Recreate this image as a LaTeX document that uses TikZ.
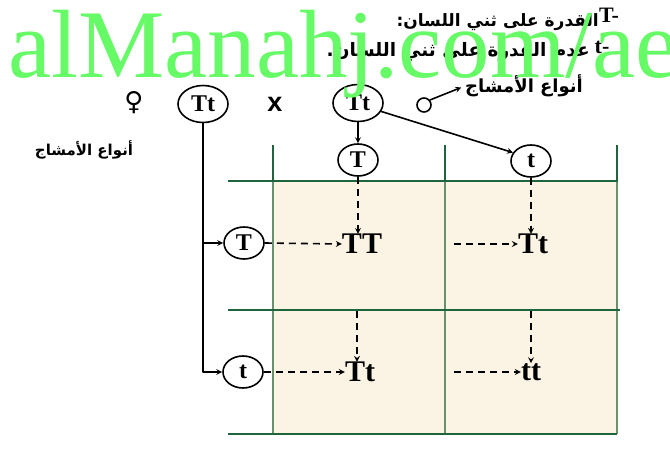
\documentclass[tikz,border=0pt]{standalone}
\usepackage{fontspec}
\setmainfont{Liberation Serif}
\setsansfont{Liberation Sans}
\newfontfamily\arabicfont[Script=Arabic]{DejaVu Sans}
\newfontfamily\symfont{DejaVu Sans}
\usetikzlibrary{shapes.geometric,arrows.meta}
\TeXXeTstate=1
\definecolor{gridgreen}{RGB}{30,100,60}
\definecolor{cellgreen}{RGB}{105,145,110}
\definecolor{beige}{RGB}{251,243,227}
\definecolor{wmgreen}{RGB}{102,250,102}
\begin{document}
\begin{tikzpicture}[x=1pt,y=-1pt,>=stealth,line join=round,
	gam/.style={draw,ellipse,line width=1.6pt,inner sep=0pt,minimum width=40pt,minimum height=32pt,font=\bfseries\fontsize{24}{24}\selectfont},
	par/.style={gam,minimum width=50pt,minimum height=37pt},
	geno/.style={inner sep=0pt,font=\bfseries\fontsize{30}{30}\selectfont},
	dsh/.style={->,line width=1.6pt,dash pattern=on 7pt off 5pt},
	tick/.style={gridgreen,line width=2.6pt},
	arb/.style={inner sep=0pt,font=\arabicfont\bfseries\fontsize{#1}{#1}\selectfont},
	arb/.default=14]
	\useasboundingbox (0,0) rectangle (670,465);
	% punnett grid
	\fill[beige] (273,181) rectangle (617,434);
	\foreach \x in {273,445,617}
		\draw[cellgreen,line width=2pt] (\x,181) -- (\x,434);
	\foreach \x in {273,445,617}
		\draw[tick] (\x,145) -- (\x,182);
	\draw[tick] (228,181) -- (618,181);
	\draw[tick] (228,310) -- (620,310);
	\draw[tick] (228,434) -- (617,434);
	% parents
	\node[font=\symfont\fontsize{26}{26}\selectfont] (fem) at (134,103) {♀};
	\node[par] (F) at (203,104) {Tt};
	\node[font=\sffamily\bfseries\fontsize{27}{27}\selectfont] (cross) at (275,104) {x};
	\node[par] (M) at (358,103) {Tt};
	\node[draw,circle,line width=1.6pt,minimum size=14pt,inner sep=0pt] (mal) at (424,105) {};
	\node[arb=18] (gm) at (524,86) {\beginR أنواع الأمشاج\endR};
	\node[arb=15] (gf) at (84,150) {\beginR أنواع الأمشاج\endR};
	% legend
	\node[inner sep=0pt,font=\bfseries\fontsize{22}{22}\selectfont] (lgT) at (609,15) {T-};
	\node[arb=17,anchor=east] (lg1) at (599,22) {\beginR القدرة على ثني اللسان:\endR};
	\node[inner sep=0pt,font=\bfseries\fontsize{22}{22}\selectfont] (lgt) at (602,47) {t-};
	\node[arb=18.5,anchor=east] (lg2) at (590,52) {\beginR عدم القدرة على ثني اللسان.\endR};
	% gametes
	\node[gam] (gT) at (358,160) {T};
	\node[gam] (gt) at (531,161) {t};
	\node[gam] (lT) at (244,243) {T};
	\node[gam] (lt) at (243,372) {t};
	% offspring
	\node[geno] (TT) at (362,244) {TT};
	\node[geno] (Tt1) at (533,244) {Tt};
	\node[geno] (Tt2) at (360,372) {Tt};
	\node[geno] (tt) at (531,372) {tt};
	\coordinate (r1) at (454,244);
	\coordinate (r2) at (454,372);
	\coordinate (c1) at (357,311);
	\coordinate (c2) at (531,311);
	% connectors
	\draw[->,line width=1.6pt,shorten >=4pt] (mal.40) -- (gm.west);
	\draw[->,line width=1.6pt] (F.south) |- (lt.west);
	\draw[->,line width=1.6pt] (F.south |- lT) -- (lT.west);
	\draw[->,line width=1.6pt] (M.south) -- (gT.north);
	\draw[->,line width=1.6pt] (M.-20) -- (gt.155);
	\draw[dsh] (gT.south) -- (gT.south |- TT.north);
	\draw[dsh] (gt.south) -- (gt.south |- Tt1.north);
	\draw[dsh] (c1) -- (c1 |- Tt2.north);
	\draw[dsh] (c2) -- (c2 |- tt.north);
	\draw[dsh] (lT.east) -- (TT.west);
	\draw[dsh] (r1) -- (Tt1.west);
	\draw[dsh] (lt.east) -- (Tt2.west);
	\draw[dsh] (r2) -- (tt.west);
	% watermark
	\node[anchor=base west,inner sep=0pt,text=wmgreen,font=\fontsize{97}{97}\selectfont] (wm) at (8,78) {alManahj.com/ae};
\end{tikzpicture}
\end{document}
